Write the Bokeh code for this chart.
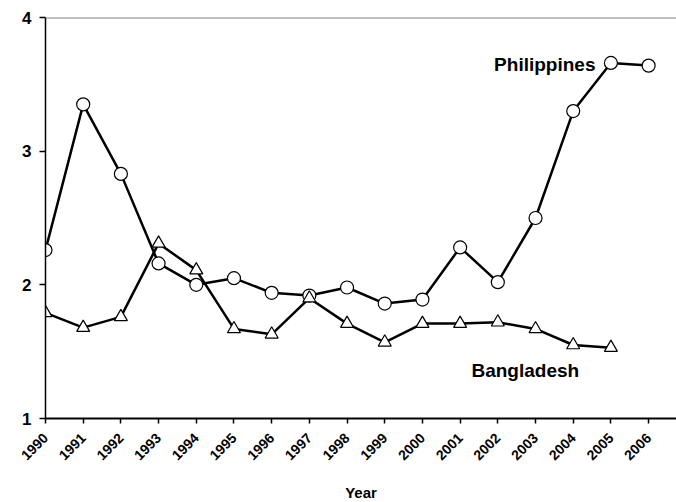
import math
from bokeh.plotting import figure
from bokeh.models import FixedTicker, Span, Label
from bokeh.embed import file_html
from bokeh.resources import INLINE

years = list(range(1990, 2007))
philippines = [2.26, 3.35, 2.83, 2.16, 2.00, 2.05, 1.94, 1.92, 1.98, 1.86,
               1.89, 2.28, 2.02, 2.50, 3.30, 3.66, 3.64]
bd_years = list(range(1990, 2006))
bangladesh = [1.79, 1.68, 1.76, 2.31, 2.11, 1.67, 1.63, 1.90, 1.71, 1.57,
              1.71, 1.71, 1.72, 1.67, 1.55, 1.53]
x_ticks = list(range(1990, 2008))
y_ticks = [1, 2, 3, 4]

FONT = "Liberation Sans"

p = figure(width=676, height=502, output_backend="svg", toolbar_location=None,
           x_range=(1990, 2006.74), y_range=(1, 4),
           min_border_left=45, min_border_right=0, min_border_top=17,
           min_border_bottom=84)
p.frame_width = 631
p.frame_height = 401
p.outline_line_color = None
p.xgrid.visible = False
p.ygrid.visible = False
p.background_fill_color = "white"
p.border_fill_color = "white"

p.add_layout(Span(location=4, dimension="width", line_color="#808080", line_width=2))

p.line(years, philippines, line_color="black", line_width=2.5)
p.scatter(years, philippines, marker="circle", size=13, fill_color="white",
          line_color="black", line_width=1.2)
p.line(bd_years, bangladesh, line_color="black", line_width=2.5)
p.scatter(bd_years, bangladesh, marker="triangle", size=13, fill_color="white",
          line_color="black", line_width=1.2)

p.add_layout(Label(x=2004.59, y=3.65, text="Philippines", text_align="right",
                   text_baseline="middle", text_font=FONT, text_font_style="bold",
                   text_font_size="19px", text_color="black"))
p.add_layout(Label(x=2001.30, y=1.36, text="Bangladesh", text_align="left",
                   text_baseline="middle", text_font=FONT, text_font_style="bold",
                   text_font_size="19px", text_color="black"))

xa = p.xaxis[0]
xa.ticker = FixedTicker(ticks=x_ticks)
xa.major_label_orientation = math.pi / 4
xa.major_label_text_font = FONT
xa.major_label_text_font_style = "bold"
xa.major_label_text_font_size = "14px"
xa.major_label_text_color = "black"
xa.major_label_standoff = 12
xa.major_tick_out = 5
xa.major_tick_in = 0
xa.minor_tick_out = 0
xa.minor_tick_in = 0
xa.axis_line_width = 2
xa.axis_line_color = "black"
xa.major_tick_line_color = "black"
xa.major_tick_line_width = 1.5
xa.axis_label = "Year"
xa.axis_label_text_font = FONT
xa.axis_label_text_font_style = "bold"
xa.axis_label_text_font_size = "15px"
xa.axis_label_text_color = "black"
xa.axis_label_standoff = 16

ya = p.yaxis[0]
ya.ticker = FixedTicker(ticks=y_ticks)
ya.major_label_text_font = FONT
ya.major_label_text_font_style = "bold"
ya.major_label_text_font_size = "17px"
ya.major_label_text_color = "black"
ya.major_tick_out = 6
ya.major_tick_in = 0
ya.minor_tick_out = 0
ya.minor_tick_in = 0
ya.axis_line_width = 1.5
ya.axis_line_color = "black"
ya.major_tick_line_color = "black"
ya.major_tick_line_width = 1.5
ya.major_label_standoff = 8

open("out.html", "w").write(file_html(p, INLINE))
